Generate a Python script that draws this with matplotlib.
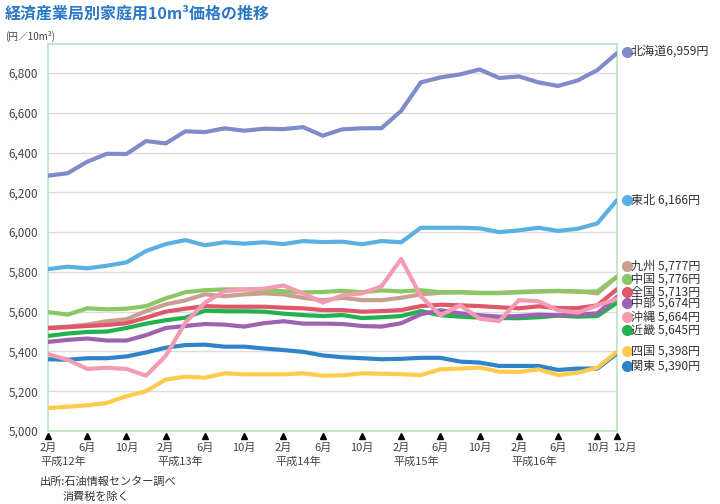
import numpy as np
import matplotlib
matplotlib.use("Agg")
import matplotlib.pyplot as plt
from matplotlib.transforms import blended_transform_factory

plt.rcParams['font.family'] = ['Noto Sans CJK JP', 'DejaVu Sans']

# ---- data (every 2 months, Feb H12 .. Dec H16) ----
months = np.arange(30) * 2

hokkaido = [6284, 6296, 6354, 6394, 6393, 6458, 6446, 6507, 6503, 6522, 6510, 6520, 6518, 6528, 6485,
            6517, 6522, 6523, 6610, 6753, 6778, 6793, 6818, 6775, 6783, 6753, 6735, 6763, 6815, 6900]
tohoku = [5814, 5826, 5818, 5831, 5848, 5905, 5940, 5960, 5934, 5949, 5942, 5949, 5940, 5955, 5950,
          5952, 5939, 5955, 5949, 6022, 6022, 6022, 6019, 6000, 6009, 6022, 6006, 6017, 6044, 6161]
kyushu = [5520, 5525, 5535, 5552, 5562, 5603, 5637, 5657, 5687, 5678, 5687, 5692, 5687, 5670, 5657,
          5670, 5658, 5658, 5670, 5687, 5695, 5698, 5695, 5695, 5700, 5702, 5703, 5703, 5692, 5777]
chugoku = [5598, 5585, 5617, 5612, 5615, 5628, 5667, 5698, 5708, 5712, 5712, 5708, 5703, 5697, 5699,
           5705, 5698, 5707, 5702, 5708, 5698, 5698, 5693, 5693, 5697, 5702, 5705, 5700, 5702, 5776]
zenkoku = [5517, 5522, 5528, 5533, 5542, 5570, 5600, 5615, 5628, 5625, 5625, 5625, 5620, 5617, 5608,
           5608, 5600, 5603, 5608, 5628, 5635, 5632, 5628, 5622, 5617, 5627, 5618, 5618, 5632, 5713]
chubu = [5448, 5458, 5465, 5455, 5455, 5482, 5518, 5528, 5538, 5535, 5525, 5542, 5552, 5540, 5540,
         5538, 5528, 5525, 5542, 5587, 5607, 5592, 5582, 5575, 5578, 5585, 5582, 5585, 5592, 5674]
okinawa = [5387, 5358, 5312, 5318, 5312, 5278, 5378, 5545, 5645, 5703, 5712, 5715, 5732, 5692, 5646,
           5682, 5692, 5728, 5865, 5678, 5582, 5632, 5565, 5553, 5658, 5652, 5607, 5595, 5632, 5664]
kinki = [5478, 5490, 5498, 5500, 5518, 5540, 5557, 5570, 5605, 5602, 5602, 5600, 5590, 5583, 5578,
         5583, 5568, 5572, 5578, 5603, 5582, 5575, 5570, 5568, 5567, 5572, 5580, 5575, 5578, 5645]
shikoku = [5115, 5122, 5129, 5141, 5175, 5200, 5259, 5273, 5268, 5290, 5285, 5285, 5285, 5290, 5278,
           5280, 5290, 5288, 5286, 5281, 5310, 5314, 5319, 5298, 5297, 5310, 5281, 5293, 5319, 5398]
kanto = [5361, 5358, 5366, 5366, 5375, 5395, 5419, 5432, 5434, 5424, 5424, 5415, 5407, 5398, 5380,
         5371, 5366, 5361, 5363, 5368, 5368, 5349, 5344, 5327, 5327, 5327, 5307, 5314, 5314, 5390]

legend_labels = ["北海道6,959円", "東北 6,166円", "九州 5,777円", "中国 5,776円", "全国 5,713円",
                 "中部 5,674円", "沖縄 5,664円", "近畿 5,645円", "四国 5,398円", "関東 5,390円"]

tick_months = [0, 4, 8, 12, 16, 20, 24, 28, 32, 36, 40, 44, 48, 52, 56, 58]
tick_labels = ["2月", "6月", "10月"] * 5 + ["12月"]
year_months = [0, 12, 24, 36, 48]
year_labels = ["平成12年", "平成13年", "平成14年", "平成15年", "平成16年"]
y_ticks = [5000, 5200, 5400, 5600, 5800, 6000, 6200, 6400, 6600, 6800]

colors = {
    'hokkaido': '#7f8cc9', 'tohoku': '#5ab0e3', 'kyushu': '#c9a08f', 'chugoku': '#8cc765',
    'zenkoku': '#e0566a', 'chubu': '#9e62b2', 'okinawa': '#f49ab2', 'kinki': '#22b14c',
    'shikoku': '#ffcb4f', 'kanto': '#2f83c9'}

series_draw = [('kanto', kanto), ('shikoku', shikoku), ('kyushu', kyushu), ('zenkoku', zenkoku),
               ('kinki', kinki), ('chubu', chubu), ('chugoku', chugoku), ('okinawa', okinawa),
               ('tohoku', tohoku), ('hokkaido', hokkaido)]

fig = plt.figure(figsize=(7.2, 5.04), dpi=100)
W, H = 720, 504
ax_l, ax_r, ax_t, ax_b = 48, 617, 44, 431
ax = fig.add_axes([ax_l / W, 1 - ax_b / H, (ax_r - ax_l) / W, (ax_b - ax_t) / H])

for name, vals in series_draw:
    ax.plot(months, vals, color=colors[name], lw=3.0, solid_joinstyle='round', solid_capstyle='round', zorder=3)

ax.set_xlim(0, 58)
ax.set_ylim(5000, 6946)
ax.set_yticks(y_ticks)
ax.set_yticklabels([f"{v:,}" for v in y_ticks], fontsize=8.5, color='#444444')
ax.tick_params(axis='y', length=0, pad=7)
ax.set_xticks([])
ax.grid(axis='y', color='#dddddd', lw=1.0, zorder=0)
for s in ax.spines.values():
    s.set_color('#b5e6c0')
    s.set_linewidth(1.2)

trans = blended_transform_factory(ax.transData, ax.transAxes)
ax.plot(tick_months, [-0.014] * len(tick_months), linestyle='none', marker='^', markersize=4.5,
        color='black', transform=trans, clip_on=False)
for m, lab in zip(tick_months, tick_labels):
    if lab == "12月":
        ax.text(m - 0.45, -0.043, lab, transform=trans, ha='left', va='center', fontsize=8, color='#444444')
    else:
        ax.text(m, -0.043, lab, transform=trans, ha='center', va='center', fontsize=8, color='#444444')
for m, lab in zip(year_months, year_labels):
    ax.text(m - 0.8, -0.080, lab, transform=trans, ha='left', va='center', fontsize=8, color='#444444')

# legend on right
leg_keys = ['hokkaido', 'tohoku', 'kyushu', 'chugoku', 'zenkoku', 'chubu', 'okinawa', 'kinki', 'shikoku', 'kanto']
leg_y = [51.5, 200, 265.7, 279.3, 291.7, 303.3, 316.7, 330, 351, 366]
for key, lab, yy in zip(leg_keys, legend_labels, leg_y):
    fig.lines.append(plt.Line2D([626.5 / W], [1 - yy / H], marker='o', markersize=7, color=colors[key],
                                linestyle='none', transform=fig.transFigure))
    fig.text(631 / W, 1 - yy / H, lab, ha='left', va='center', fontsize=8.7, color='#333333')

# title and notes
fig.text(5 / W, 1 - 14 / H, "経済産業局別家庭用10m³価格の推移", ha='left', va='center',
         fontsize=11.5, fontweight='bold', color='#2a78c6')
fig.text(5 / W, 1 - 36 / H, "(円／10m³)", ha='left', va='center', fontsize=7, color='#444444')
fig.text(40 / W, 1 - 482 / H, "出所:石油情報センター調べ", ha='left', va='center', fontsize=8, color='#333333')
fig.text(63 / W, 1 - 497 / H, "消費税を除く", ha='left', va='center', fontsize=8, color='#333333')

fig.savefig("out.png", dpi=100, facecolor='white')
